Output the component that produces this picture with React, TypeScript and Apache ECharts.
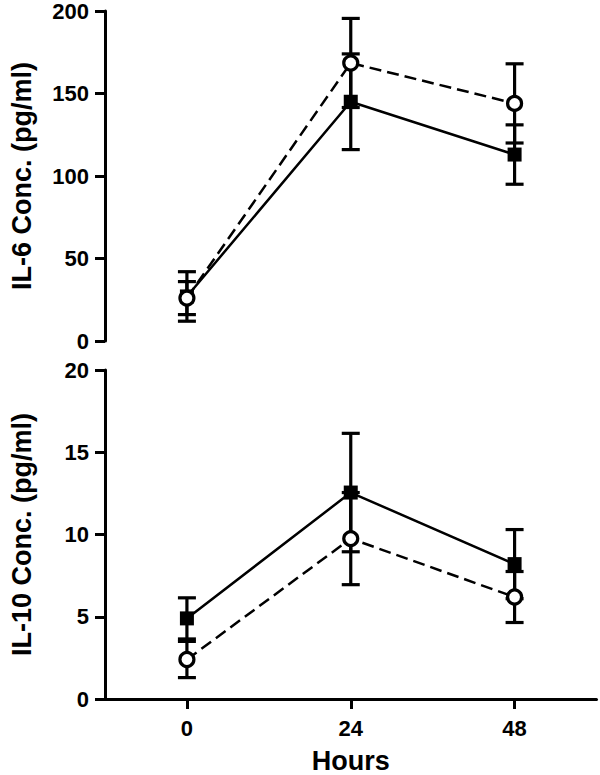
import React, { useEffect, useRef } from "react";
import * as echarts from "echarts";

const hours = ["0", "24", "48"];
// IL-6 (top panel)
const il6Square = [27, 145, 113];
const il6SquareErr = [15, 29, 18];
const il6Circle = [26, 168.5, 144];
const il6CircleErr = [10, 27, 24];
// IL-10 (bottom panel)
const il10Square = [4.9, 12.55, 8.2];
const il10SquareErr = [1.25, 3.6, 2.1];
const il10Circle = [2.4, 9.75, 6.2];
const il10CircleErr = [1.1, 2.8, 1.55];

const il6Ticks = { min: 0, max: 200, interval: 50 };
const il10Ticks = { min: 0, max: 20, interval: 5 };

const FONT = "Liberation Sans, Arial, Helvetica, sans-serif";

function errData(vals: number[], errs: number[]) {
  return vals.map((v, i) => [i, v - errs[i], v + errs[i]]);
}

function errorSeries(vals: number[], errs: number[], gi: number) {
  return {
    type: "custom",
    xAxisIndex: gi,
    yAxisIndex: gi,
    z: 1,
    silent: true,
    data: errData(vals, errs),
    encode: { x: 0, y: [1, 2] },
    renderItem: (params: any, api: any) => {
      const x = api.value(0);
      const lo = api.coord([x, api.value(1)]);
      const hi = api.coord([x, api.value(2)]);
      const half = 9;
      const style = { stroke: "#000", lineWidth: 3.2 };
      return {
        type: "group",
        children: [
          { type: "line", shape: { x1: lo[0], y1: lo[1], x2: hi[0], y2: hi[1] }, style },
          { type: "line", shape: { x1: lo[0] - half, y1: lo[1], x2: lo[0] + half, y2: lo[1] }, style },
          { type: "line", shape: { x1: hi[0] - half, y1: hi[1], x2: hi[0] + half, y2: hi[1] }, style },
        ],
      };
    },
  };
}

function lineSeries(vals: number[], gi: number, kind: "square" | "circle") {
  return {
    type: "line",
    xAxisIndex: gi,
    yAxisIndex: gi,
    z: 3,
    data: vals,
    symbol: kind === "square" ? "rect" : "circle",
    symbolSize: kind === "square" ? 14 : 14,
    itemStyle:
      kind === "square"
        ? { color: "#000", borderColor: "#000", borderWidth: 0 }
        : { color: "#fff", borderColor: "#000", borderWidth: 3.2 },
    lineStyle: {
      color: "#000",
      width: 2.5,
      type: kind === "square" ? "solid" : [12, 6],
    },
  };
}

export default function App() {
  const ref = useRef<HTMLDivElement>(null);
  useEffect(() => {
    if (!ref.current) return;
    const chart = echarts.init(ref.current, null, { renderer: "svg" });
    const axisLine = { show: true, lineStyle: { color: "#000", width: 3 } };
    const axisTick = { show: true, length: 10, lineStyle: { color: "#000", width: 3 } };
    const yLabel = { color: "#000", fontSize: 22, fontWeight: "bold", fontFamily: FONT, margin: 16 };
    const yName = { color: "#000", fontSize: 27, fontWeight: "bold", fontFamily: FONT };
    chart.setOption({
      animation: false,
      backgroundColor: "#fff",
      grid: [
        { left: 97, top: 11, width: 499.5, height: 330 },
        { left: 97, top: 370, width: 499.5, height: 331 },
      ],
      xAxis: [
        {
          type: "category",
          gridIndex: 0,
          data: hours,
          boundaryGap: true,
          axisLine: { show: false },
          axisTick: { show: false },
          axisLabel: { show: false },
          splitLine: { show: false },
        },
        {
          type: "category",
          gridIndex: 1,
          data: hours,
          boundaryGap: true,
          axisLine,
          axisTick: { ...axisTick, alignWithLabel: true },
          axisLabel: { color: "#000", fontSize: 22, fontWeight: "bold", fontFamily: FONT, margin: 18 },
          splitLine: { show: false },
          name: "Hours",
          nameLocation: "middle",
          nameGap: 48,
          nameTextStyle: { color: "#000", fontSize: 27, fontWeight: "bold", fontFamily: FONT },
        },
      ],
      yAxis: [
        {
          type: "value",
          gridIndex: 0,
          ...il6Ticks,
          axisLine,
          axisTick,
          axisLabel: yLabel,
          splitLine: { show: false },
          name: "IL-6 Conc. (pg/ml)",
          nameLocation: "middle",
          nameGap: 70,
          nameTextStyle: yName,
        },
        {
          type: "value",
          gridIndex: 1,
          ...il10Ticks,
          axisLine,
          axisTick,
          axisLabel: yLabel,
          splitLine: { show: false },
          name: "IL-10 Conc. (pg/ml)",
          nameLocation: "middle",
          nameGap: 70,
          nameTextStyle: yName,
        },
      ],
      series: [
        errorSeries(il6Square, il6SquareErr, 0),
        errorSeries(il6Circle, il6CircleErr, 0),
        lineSeries(il6Square, 0, "square"),
        lineSeries(il6Circle, 0, "circle"),
        errorSeries(il10Square, il10SquareErr, 1),
        errorSeries(il10Circle, il10CircleErr, 1),
        lineSeries(il10Square, 1, "square"),
        lineSeries(il10Circle, 1, "circle"),
      ],
    });
    return () => chart.dispose();
  }, []);
  return (
    <div
      ref={ref}
      style={{ position: "absolute", left: 0, top: 0, width: 600, height: 775 }}
    />
  );
}
